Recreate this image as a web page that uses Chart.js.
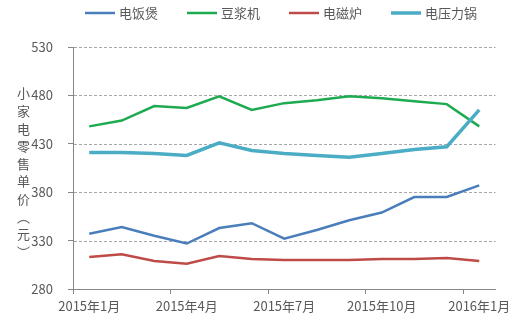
<!DOCTYPE html>
<html>
<head>
<meta charset="utf-8">
<script src="https://cdn.jsdelivr.net/npm/chart.js@4.4.0/dist/chart.umd.min.js"></script>
<style>
  html, body { margin: 0; padding: 0; background: #fff; }
  #wrap { position: relative; width: 520px; height: 322px; }
  #ytitle {
    position: absolute; left: 15px; top: 87px;
    writing-mode: vertical-rl;
    font: 13px "Noto Sans CJK SC", sans-serif;
    letter-spacing: 4.6px; color: #595959; line-height: 16px;
  }
</style>
</head>
<body>
<div id="wrap">
  <canvas id="chart" width="520" height="322"></canvas>
  <div id="ytitle">小家电零售单价（元）</div>
</div>
<script>
const months = ['2015年1月', '2015年2月', '2015年3月', '2015年4月', '2015年5月', '2015年6月', '2015年7月',
                '2015年8月', '2015年9月', '2015年10月', '2015年11月', '2015年12月', '2016年1月']
const riceCooker = [337, 344, 335, 327, 343, 348, 332, 341, 351, 359, 375, 375, 387]
const soyMilk = [448, 454, 469, 467, 479, 465, 472, 475, 479, 477, 474, 471, 448]
const induction = [313, 316, 309, 306, 314, 311, 310, 310, 310, 311, 311, 312, 309]
const pressureCooker = [421, 421, 420, 418, 431, 423, 420, 418, 416, 420, 424, 427, 465]
const yTicks = [280, 330, 380, 430, 480, 530]

const FONT = '"Noto Sans CJK SC", sans-serif'
const GREY = '#595959'
const AXIS = '#868686'

// dashed horizontal gridlines, Excel style (skip the bottom one, the axis covers it)
const dashedGrid = {
    id: 'dashedGrid',
    beforeDatasetsDraw(chart) {
        const { ctx, chartArea, scales } = chart
        ctx.save()
        ctx.strokeStyle = '#A6A6A6'
        ctx.lineWidth = 1
        ctx.setLineDash([3, 2])
        yTicks.slice(1).forEach(v => {
            const y = Math.round(scales.y.getPixelForValue(v)) + 0.5
            ctx.beginPath()
            ctx.moveTo(chartArea.left + 1, y)
            ctx.lineTo(chartArea.right, y)
            ctx.stroke()
        })
        ctx.restore()
    }
}

// legend drawn by hand: line + label
const topLegend = {
    id: 'topLegend',
    afterDraw(chart) {
        const ctx = chart.ctx
        const sets = chart.data.datasets
        ctx.save()
        ctx.font = '13px ' + FONT
        const lineLen = 30, gap = 4, space = 29
        const widths = sets.map(d => ctx.measureText(d.label).width)
        const total = widths.reduce((a, w) => a + lineLen + gap + w, 0) + space * (sets.length - 1)
        let x = 281 - total / 2
        const y = 13
        sets.forEach((d, i) => {
            ctx.strokeStyle = d.borderColor
            ctx.lineWidth = d.borderWidth
            ctx.beginPath()
            ctx.moveTo(x, y)
            ctx.lineTo(x + lineLen, y)
            ctx.stroke()
            ctx.fillStyle = GREY
            ctx.textBaseline = 'middle'
            ctx.fillText(d.label, x + lineLen + gap, y)
            x += lineLen + gap + widths[i] + space
        })
        ctx.restore()
    }
}

new Chart(document.getElementById('chart'), {
    type: 'line',
    data: {
        labels: months,
        datasets: [
            { label: '电饭煲', data: riceCooker, borderColor: '#4A7EBB', borderWidth: 2.5, order: 4 },
            { label: '豆浆机', data: soyMilk, borderColor: '#1EAA50', borderWidth: 2.5, order: 3 },
            { label: '电磁炉', data: induction, borderColor: '#BE4B48', borderWidth: 2.5, order: 2 },
            { label: '电压力锅', data: pressureCooker, borderColor: '#4BACC6', borderWidth: 3.5, order: 1 }
        ]
    },
    options: {
        responsive: false,
        animation: false,
        elements: { point: { radius: 0 }, line: { tension: 0 } },
        layout: { padding: { left: 0, right: 24.5, top: 47, bottom: 0 } },
        plugins: { legend: { display: false }, tooltip: { enabled: false } },
        scales: {
            x: {
                offset: true,
                afterFit: s => { s.height = 33 },
                grid: {
                    offset: true,
                    drawOnChartArea: false,
                    tickLength: 5,
                    tickColor: c => (c.index % 3 === 0 && c.index < months.length) ? AXIS : 'rgba(0,0,0,0)'
                },
                border: { color: AXIS, width: 1 },
                ticks: {
                    autoSkip: false,
                    maxRotation: 0,
                    padding: 4,
                    color: GREY,
                    font: { family: FONT, size: 13 },
                    callback: (v, i) => i % 3 === 0 ? months[i] : ''
                }
            },
            y: {
                min: yTicks[0],
                max: yTicks[yTicks.length - 1],
                afterFit: s => { s.width = 73 },
                afterBuildTicks: s => { s.ticks = yTicks.map(v => ({ value: v })) },
                grid: {
                    drawOnChartArea: false,
                    tickColor: AXIS,
                    tickLength: 5
                },
                border: { color: AXIS, width: 1 },
                ticks: {
                    padding: 15,
                    color: GREY,
                    font: { family: FONT, size: 13 }
                }
            }
        }
    },
    plugins: [dashedGrid, topLegend]
})
</script>
</body>
</html>
